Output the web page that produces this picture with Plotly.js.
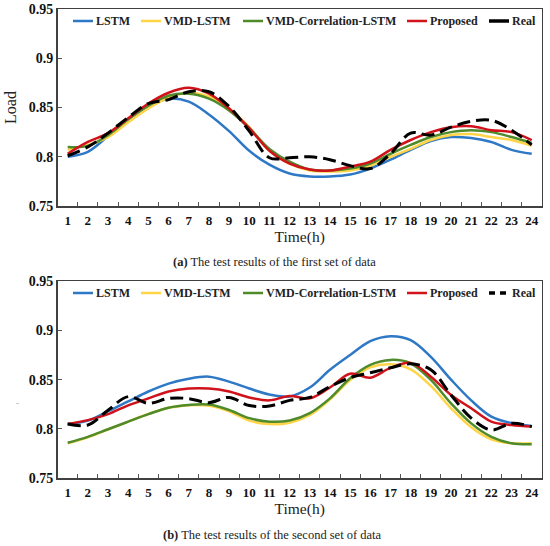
<!DOCTYPE html>
<html>
<head>
<meta charset="utf-8">
<script src="https://cdn.plot.ly/plotly-3.0.1.min.js"></script>
<style>
html,body{margin:0;padding:0;background:#fff;}
#chart{width:550px;height:546px;}
</style>
</head>
<body>
<div id="chart"></div>
<script>
// ---------- data ----------
const hours = ["1","2","3","4","5","6","7","8","9","10","11","12","13","14","15","16","17","18","19","20","21","22","23","24"];
const seriesNames = ["LSTM", "VMD-LSTM", "VMD-Correlation-LSTM", "Proposed", "Real"];

// (a) first set of data
const lstmA = [0.800,0.805,0.821,0.838,0.851,0.859,0.856,0.843,0.826,0.806,0.792,0.783,0.780,0.780,0.782,0.788,0.797,0.807,0.816,0.820,0.819,0.815,0.807,0.803];
const vmdA  = [0.807,0.812,0.820,0.835,0.849,0.860,0.865,0.861,0.849,0.830,0.806,0.793,0.786,0.785,0.786,0.791,0.800,0.808,0.817,0.822,0.823,0.820,0.817,0.811];
const corrA = [0.810,0.811,0.822,0.838,0.852,0.862,0.864,0.859,0.847,0.829,0.808,0.795,0.787,0.786,0.788,0.793,0.803,0.812,0.820,0.825,0.827,0.825,0.820,0.814];
const propA = [0.803,0.815,0.824,0.839,0.854,0.865,0.870,0.864,0.849,0.829,0.806,0.793,0.787,0.786,0.790,0.795,0.807,0.817,0.825,0.830,0.831,0.827,0.825,0.817];
const realA = [0.801,0.810,0.824,0.840,0.854,0.858,0.866,0.866,0.851,0.826,0.799,0.799,0.800,0.797,0.791,0.788,0.803,0.824,0.822,0.830,0.836,0.837,0.827,0.812];

// (b) second set of data
const lstmB = [0.805,0.8085,0.818,0.828,0.838,0.846,0.851,0.853,0.848,0.841,0.835,0.833,0.842,0.860,0.875,0.889,0.894,0.890,0.873,0.850,0.829,0.8125,0.806,0.803];
const vmdB  = [0.7855,0.7915,0.7995,0.8075,0.8152,0.8215,0.824,0.8235,0.818,0.8085,0.805,0.8064,0.8142,0.830,0.8497,0.8625,0.8656,0.8605,0.8436,0.821,0.8017,0.7895,0.7855,0.7855];
const corrB = [0.786,0.792,0.7997,0.8074,0.815,0.8216,0.8243,0.8247,0.8193,0.811,0.8074,0.8085,0.816,0.831,0.8514,0.865,0.870,0.8666,0.8497,0.826,0.8057,0.792,0.7855,0.7845];
const propB = [0.805,0.809,0.815,0.824,0.831,0.838,0.841,0.841,0.838,0.832,0.829,0.8335,0.831,0.842,0.856,0.852,0.862,0.867,0.853,0.8345,0.821,0.8075,0.804,0.8025];
const realB = [0.805,0.804,0.819,0.8328,0.826,0.831,0.8308,0.8267,0.832,0.8237,0.8233,0.829,0.832,0.843,0.852,0.857,0.862,0.866,0.860,0.8345,0.811,0.799,0.8057,0.8024];

const yTickVals = [0.75, 0.8, 0.85, 0.9, 0.95];
const yTickText = ["0.75", "0.8", "0.85", "0.9", "0.95"];

// ---------- style ----------
const colors = ["#2E78C6", "#FFD447", "#4F8A2B", "#D0121B", "#000000"];
const widths = [2.5, 2.5, 2.5, 2.5, 3];
const serif = "Liberation Serif, Times New Roman, serif";
const W = 550, H = 546;
const px = v => v / W;
const py = v => 1 - v / H;

const setsA = [lstmA, vmdA, corrA, propA, realA];
const setsB = [lstmB, vmdB, corrB, propB, realB];

const traces = [];
[[setsA, "x", "y"], [setsB, "x2", "y2"]].forEach(([sets, xa, ya]) => {
  sets.forEach((vals, i) => {
    traces.push({
      type: "scatter", mode: "lines",
      x: hours, y: vals, name: seriesNames[i],
      xaxis: xa, yaxis: ya, showlegend: false,
      line: {color: colors[i], width: widths[i], shape: "spline", smoothing: 1,
             dash: i === 4 ? "13px,6px" : "solid"},
      hoverinfo: "x+y+name"
    });
  });
});

function xAxis(anchor, domain) {
  return {
    anchor: anchor, domain: domain, type: "category",
    range: [-0.5, 23.5], tickson: "boundaries", tickangle: 0,
    ticks: "inside", ticklen: 4, tickwidth: 1, tickcolor: "#555",
    showline: true, mirror: true, linecolor: "#404040", linewidth: 1.5,
    showgrid: false, zeroline: false,
    tickfont: {family: serif, size: 13, color: "#111", weight: "bold"},
    ticklabelstandoff: 2,
    title: {text: "Time(h)", font: {family: serif, size: 15.5, color: "#222"}, standoff: 2}
  };
}
function yAxis(anchor, domain, title) {
  return {
    anchor: anchor, domain: domain, range: [0.75, 0.95],
    tickvals: yTickVals, ticktext: yTickText,
    ticks: "inside", ticklen: 4, tickwidth: 1, tickcolor: "#555",
    showline: true, mirror: true, linecolor: "#404040", linewidth: 1.5,
    showgrid: false, zeroline: false,
    tickfont: {family: serif, size: 14, color: "#111", weight: "bold"},
    title: {text: title, font: {family: serif, size: 16, color: "#222"}, standoff: 8}
  };
}

// legend built from the series names / colours (one per panel)
const legendLineStart = [73, 141, 243, 407, 489];
const legendRows = [21, 293];
const shapes = [], annotations = [];
legendRows.forEach((ly, r) => {
  seriesNames.forEach((nm, i) => {
    const x0 = legendLineStart[i];
    shapes.push({
      type: "line", xref: "paper", yref: "paper",
      x0: px(x0), x1: px(x0 + 20), y0: py(ly), y1: py(ly),
      line: {color: colors[i], width: i === 4 ? 3.5 : 2.5,
             dash: (i === 4 && r === 1) ? "6px,5px" : "solid"}
    });
    annotations.push({
      xref: "paper", yref: "paper", x: px(x0 + 21), y: py(ly),
      xanchor: "left", yanchor: "middle", showarrow: false,
      text: "<b>" + nm + "</b>",
      font: {family: serif, size: 12, color: "#222"}
    });
  });
});

annotations.push({
  xref: "paper", yref: "paper", x: px(274), y: py(262), xanchor: "center", yanchor: "middle",
  showarrow: false, text: "<b>(a)</b> The test results of the first set of data",
  font: {family: serif, size: 12.5, color: "#222"}
});
annotations.push({
  xref: "paper", yref: "paper", x: px(272), y: py(535), xanchor: "center", yanchor: "middle",
  showarrow: false, text: "<b>(b)</b> The test results of the second set of data",
  font: {family: serif, size: 12.5, color: "#222"}
});
annotations.push({
  xref: "paper", yref: "paper", x: px(17), y: py(403), xanchor: "center", yanchor: "middle",
  showarrow: false, text: "-", font: {family: serif, size: 9, color: "#999"}
});

const layout = {
  width: W, height: H,
  margin: {l: 0, r: 0, t: 0, b: 0},
  paper_bgcolor: "#fff", plot_bgcolor: "#fff",
  showlegend: false,
  xaxis: xAxis("y", [px(57.6), px(541.8)]),
  yaxis: yAxis("x", [py(206), py(9)], "Load"),
  xaxis2: xAxis("y2", [px(57.6), px(541.8)]),
  yaxis2: yAxis("x2", [py(478.3), py(281)], ""),
  shapes: shapes,
  annotations: annotations
};

Plotly.newPlot("chart", traces, layout, {displayModeBar: false, staticPlot: true});
</script>
</body>
</html>
